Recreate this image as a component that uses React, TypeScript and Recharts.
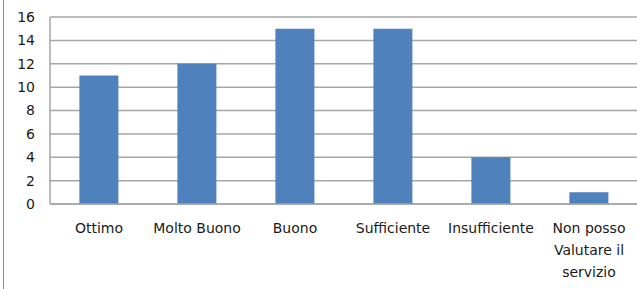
import { Bar, BarChart, CartesianGrid, XAxis, YAxis } from 'recharts'

const categories = [
  'Ottimo',
  'Molto Buono',
  'Buono',
  'Sufficiente',
  'Insufficiente',
  'Non posso Valutare il servizio',
]
const counts = [11, 12, 15, 15, 4, 1]
const yTicks = [0, 2, 4, 6, 8, 10, 12, 14, 16]

// long labels wrap the way the original spreadsheet did
const labelLines: Record<string, string[]> = {
  'Non posso Valutare il servizio': ['Non posso', 'Valutare il', 'servizio'],
}

const data = categories.map((name, i) => ({ name, value: counts[i] }))

const FONT = '"DejaVu Sans", sans-serif'

type TickProps = {
  x?: number
  y?: number
  payload?: { value: string }
}

function CategoryTick({ x = 0, y = 0, payload }: TickProps) {
  const label = payload?.value ?? ''
  const lines = labelLines[label] ?? [label]
  return (
    <text x={x} y={y} textAnchor="middle" fill="#1a1a1a" fontSize={14} fontFamily={FONT}>
      {lines.map((line, i) => (
        <tspan key={i} x={x} dy={i === 0 ? 21 : 22}>
          {line}
        </tspan>
      ))}
    </text>
  )
}

export default function App() {
  return (
    <div
      style={{
        position: 'absolute',
        left: 0,
        top: 0,
        width: 637,
        height: 289,
        overflow: 'hidden',
        background: '#fff',
      }}
    >
      <div
        style={{
          position: 'absolute',
          left: 3,
          top: 0,
          width: 1,
          height: 289,
          background: '#8c8c8c',
        }}
      />
      <BarChart
        width={638}
        height={289}
        data={data}
        margin={{ top: 17, right: 0, left: 0, bottom: 0 }}
        barCategoryGap="30%"
      >
        <CartesianGrid vertical={false} stroke="#a6a6a6" strokeWidth={1.5} />
        <XAxis
          dataKey="name"
          height={85}
          interval={0}
          tick={<CategoryTick />}
          tickLine={false}
          axisLine={{ stroke: '#a6a6a6', strokeWidth: 1.5 }}
        />
        <YAxis
          width={50}
          domain={[0, 16]}
          ticks={yTicks}
          interval={0}
          tickLine={false}
          axisLine={{ stroke: '#a6a6a6', strokeWidth: 1.5 }}
          tick={{ fill: '#1a1a1a', fontSize: 14, fontFamily: FONT }}
          tickMargin={9}
        />
        <Bar dataKey="value" fill="#4f81bd" isAnimationActive={false} />
      </BarChart>
    </div>
  )
}
